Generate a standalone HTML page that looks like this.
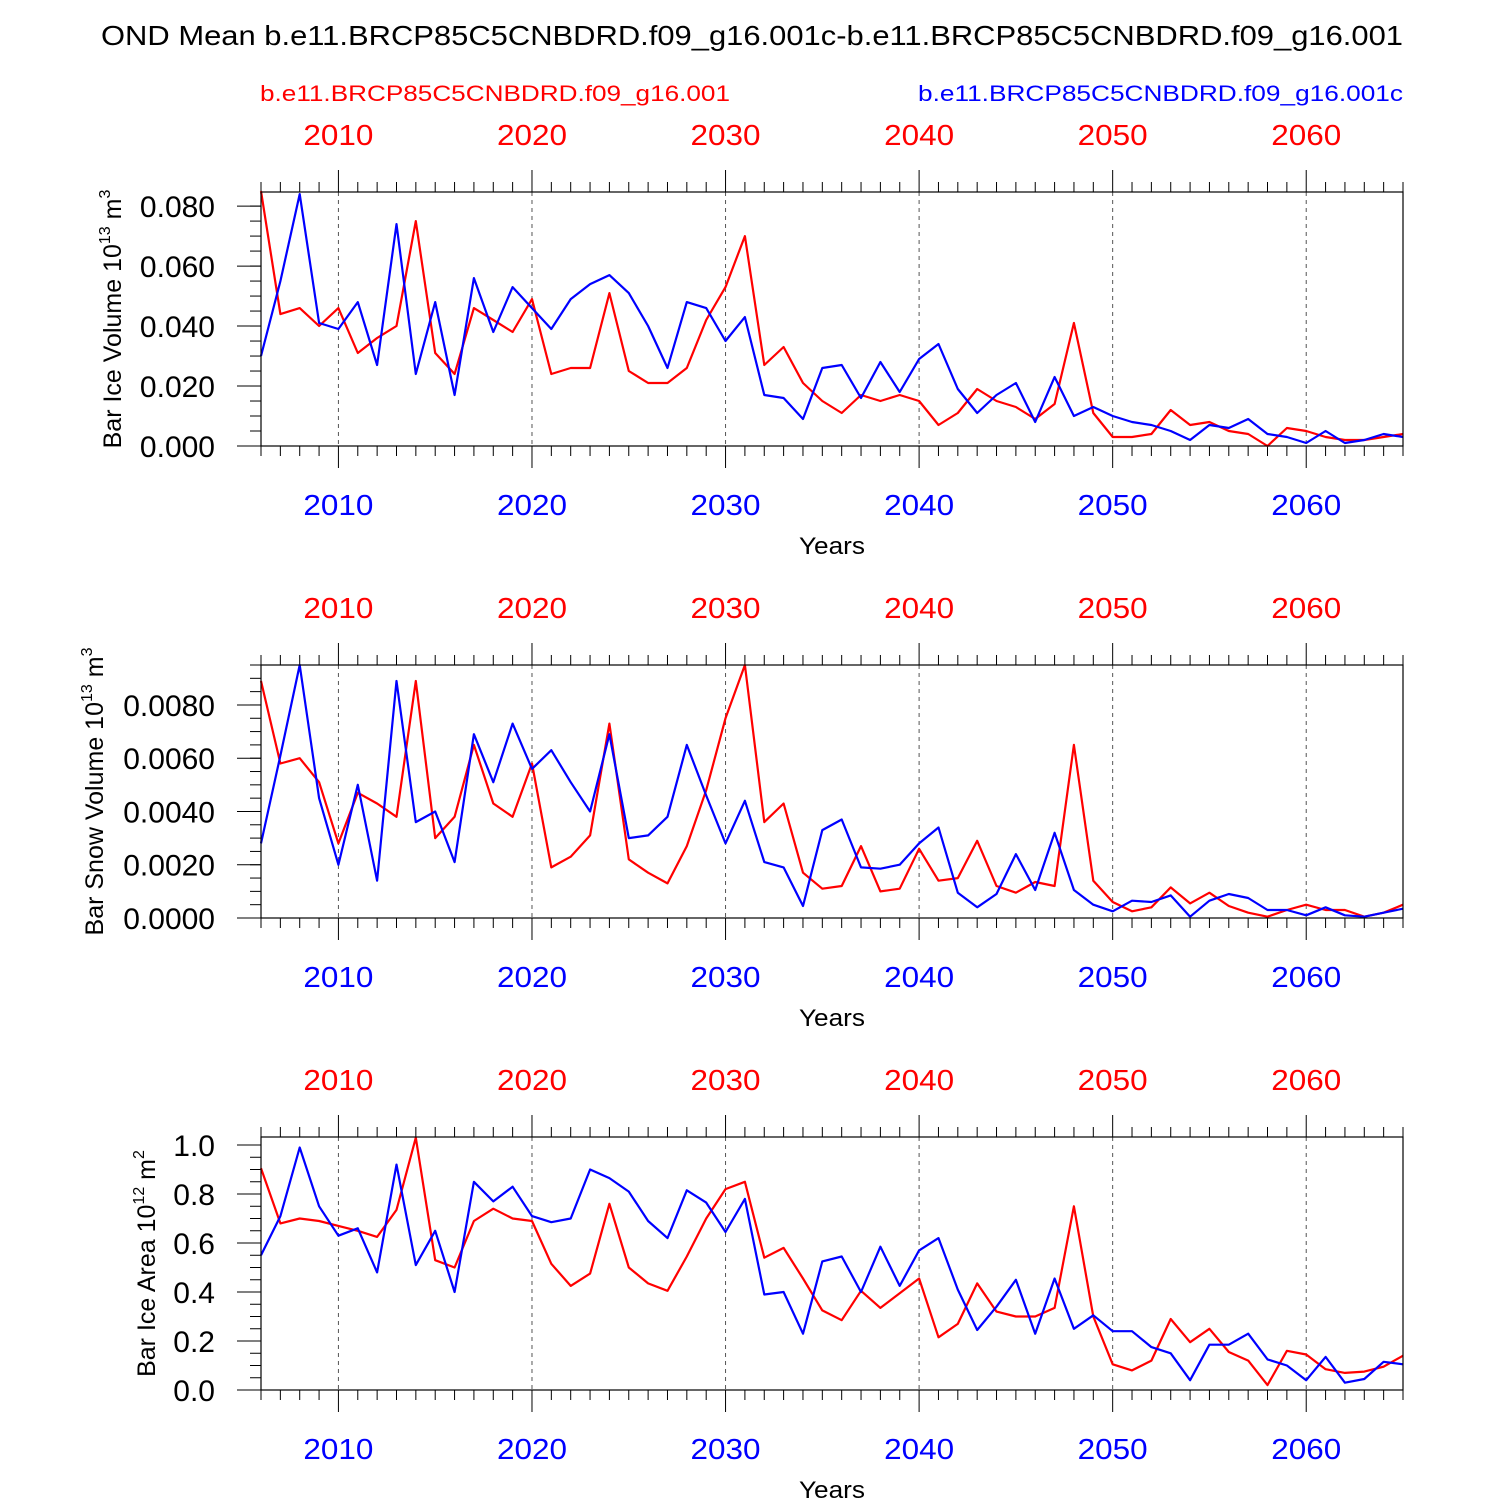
<!DOCTYPE html>
<html><head><meta charset="utf-8"><style>
body{margin:0;background:#fff}
svg{display:block;font-family:"Liberation Sans",Arial,sans-serif}
</style></head><body>
<svg id="chart" width="1500" height="1500" viewBox="0 0 1500 1500" xmlns="http://www.w3.org/2000/svg">
<rect width="1500" height="1500" fill="#fff"/>
<text x="101" y="45" font-size="28" textLength="1302" lengthAdjust="spacingAndGlyphs">OND Mean b.e11.BRCP85C5CNBDRD.f09_g16.001c-b.e11.BRCP85C5CNBDRD.f09_g16.001</text>
<text x="260" y="101" font-size="22" fill="#ff0000" textLength="470" lengthAdjust="spacingAndGlyphs">b.e11.BRCP85C5CNBDRD.f09_g16.001</text>
<text x="918" y="101" font-size="22" fill="#0000ff" textLength="485" lengthAdjust="spacingAndGlyphs">b.e11.BRCP85C5CNBDRD.f09_g16.001c</text>
</svg>
<script>
const years = [];
for (let y = 2006; y <= 2065; y++) years.push(y);
const xTickYears = [2010, 2020, 2030, 2040, 2050, 2060];

const iceVolBlue = [0.030,0.055,0.084,0.041,0.039,0.048,0.027,0.074,0.024,0.048,0.017,0.056,0.038,0.053,0.046,0.039,0.049,0.054,0.057,0.051,0.040,0.026,0.048,0.046,0.035,0.043,0.017,0.016,0.009,0.026,0.027,0.016,0.028,0.018,0.029,0.034,0.019,0.011,0.017,0.021,0.008,0.023,0.010,0.013,0.010,0.008,0.007,0.005,0.002,0.007,0.006,0.009,0.004,0.003,0.001,0.005,0.001,0.002,0.004,0.003];
const iceVolRed = [0.085,0.044,0.046,0.040,0.046,0.031,0.036,0.040,0.075,0.031,0.024,0.046,0.042,0.038,0.049,0.024,0.026,0.026,0.051,0.025,0.021,0.021,0.026,0.042,0.053,0.070,0.027,0.033,0.021,0.015,0.011,0.017,0.015,0.017,0.015,0.007,0.011,0.019,0.015,0.013,0.009,0.014,0.041,0.011,0.003,0.003,0.004,0.012,0.007,0.008,0.005,0.004,0.000,0.006,0.005,0.003,0.002,0.002,0.003,0.004];
const snowVolBlue = [2.8,6.1,9.5,4.5,2.0,5.0,1.4,8.9,3.6,4.0,2.1,6.9,5.1,7.3,5.6,6.3,5.1,4.0,6.9,3.0,3.1,3.8,6.5,4.6,2.8,4.4,2.1,1.9,0.45,3.3,3.7,1.9,1.85,2.0,2.8,3.4,0.95,0.4,0.9,2.4,1.05,3.2,1.05,0.5,0.25,0.65,0.6,0.85,0.05,0.65,0.9,0.75,0.3,0.3,0.1,0.4,0.1,0.05,0.2,0.35].map(v=>v/1000);
const snowVolRed = [8.9,5.8,6.0,5.1,2.8,4.7,4.3,3.8,8.9,3.0,3.8,6.5,4.3,3.8,5.8,1.9,2.3,3.1,7.3,2.2,1.7,1.3,2.7,4.8,7.5,9.5,3.6,4.3,1.7,1.1,1.2,2.7,1.0,1.1,2.6,1.4,1.5,2.9,1.2,0.95,1.35,1.2,6.5,1.4,0.6,0.25,0.4,1.15,0.55,0.95,0.45,0.2,0.05,0.3,0.5,0.3,0.3,0.05,0.2,0.5].map(v=>v/1000);
const iceAreaBlue = [0.55,0.71,0.99,0.75,0.63,0.66,0.48,0.92,0.51,0.65,0.40,0.85,0.77,0.83,0.71,0.685,0.70,0.90,0.865,0.81,0.69,0.62,0.815,0.765,0.645,0.78,0.39,0.40,0.23,0.525,0.545,0.40,0.585,0.425,0.57,0.62,0.41,0.245,0.34,0.45,0.23,0.455,0.25,0.305,0.24,0.24,0.175,0.15,0.04,0.185,0.185,0.23,0.125,0.10,0.04,0.135,0.03,0.045,0.115,0.105];
const iceAreaRed = [0.905,0.68,0.70,0.69,0.67,0.65,0.625,0.735,1.03,0.53,0.50,0.69,0.74,0.70,0.69,0.515,0.425,0.475,0.76,0.50,0.435,0.405,0.545,0.70,0.82,0.85,0.54,0.58,0.455,0.325,0.285,0.405,0.335,0.395,0.455,0.215,0.27,0.435,0.32,0.30,0.30,0.335,0.75,0.30,0.105,0.08,0.12,0.29,0.195,0.25,0.155,0.12,0.02,0.16,0.145,0.085,0.07,0.075,0.095,0.14];

const yTicks1 = [0,0.02,0.04,0.06,0.08];
const yTickLabels1 = ["0.000","0.020","0.040","0.060","0.080"];
const yTicks2 = [0,0.002,0.004,0.006,0.008];
const yTickLabels2 = ["0.0000","0.0020","0.0040","0.0060","0.0080"];
const yTicks3 = [0,0.2,0.4,0.6,0.8,1.0];
const yTickLabels3 = ["0.0","0.2","0.4","0.6","0.8","1.0"];

const svg = document.getElementById('chart');
const NS = 'http://www.w3.org/2000/svg';
function mk(tag, attrs, parent) {
  const e = document.createElementNS(NS, tag);
  for (const k in attrs) e.setAttribute(k, attrs[k]);
  (parent || svg).appendChild(e);
  return e;
}
const X0 = 261, X1 = 1403, XMIN = 2006, XMAX = 2065;
const xs = yr => X0 + (yr - XMIN) / (XMAX - XMIN) * (X1 - X0);

const panels = [
  {name:'ice-volume', top:192, bot:446, ymax:0.0847, ticks:yTicks1, labels:yTickLabels1, minor:0.005, blue:iceVolBlue, red:iceVolRed, title:['Bar Ice Volume 10','13',' m','3'], tx:121},
  {name:'snow-volume', top:665, bot:918, ymax:0.0095, ticks:yTicks2, labels:yTickLabels2, minor:0.0005, blue:snowVolBlue, red:snowVolRed, title:['Bar Snow Volume 10','13',' m','3'], tx:103},
  {name:'ice-area', top:1137, bot:1390, ymax:1.0327, ticks:yTicks3, labels:yTickLabels3, minor:0.05, blue:iceAreaBlue, red:iceAreaRed, title:['Bar Ice Area 10','12',' m','2'], tx:155}
];

panels.forEach(p => {
  const g = mk('g', {});
  
  
  const ys = v => p.bot - v / p.ymax * (p.bot - p.top);
  xTickYears.forEach(yr => {
    const l = mk('line', {x1:xs(yr), x2:xs(yr), y1:p.top, y2:p.bot, stroke:'#555', 'stroke-width':1, 'stroke-dasharray':'4,4'}, g);
    
    
  });
  years.forEach(yr => {
    const major = yr % 10 === 0;
    const len = major ? 22 : 10;
    mk('line', {x1:xs(yr), x2:xs(yr), y1:p.top, y2:p.top - len, stroke:'#000', 'stroke-width':1}, g);
    mk('line', {x1:xs(yr), x2:xs(yr), y1:p.bot, y2:p.bot + len, stroke:'#000', 'stroke-width':1}, g);
  });
  xTickYears.forEach(yr => {
    const t1 = mk('text', {x:xs(yr), y:p.top - 47, 'font-size':29, fill:'#ff0000', 'text-anchor':'middle', textLength:70, lengthAdjust:'spacingAndGlyphs'}, g);
    
    
    t1.textContent = yr;
    const t2 = mk('text', {x:xs(yr), y:p.bot + 69, 'font-size':29, fill:'#0000ff', 'text-anchor':'middle', textLength:70, lengthAdjust:'spacingAndGlyphs'}, g);
    
    
    t2.textContent = yr;
  });
  const xt = mk('text', {x:832, y:p.bot + 108, 'font-size':24, 'text-anchor':'middle', textLength:66, lengthAdjust:'spacingAndGlyphs'}, g);
  
  
  xt.textContent = 'Years';
  for (let k = 0; k * p.minor <= p.ymax + 1e-9; k++) {
    const v = k * p.minor;
    mk('line', {x1:X0, x2:X0 - 11, y1:ys(v), y2:ys(v), stroke:'#000', 'stroke-width':1}, g);
  }
  p.ticks.forEach((v, i) => {
    mk('line', {x1:X0, x2:X0 - 24, y1:ys(v), y2:ys(v), stroke:'#000', 'stroke-width':1}, g);
    const t = mk('text', {x:215, y:ys(v) + 11, 'font-size':30, 'text-anchor':'end'}, g);
    
    
    t.textContent = p.labels[i];
  });
  const cy = (p.top + p.bot) / 2;
  const yt = mk('text', {x:0, y:0, 'font-size':25, 'text-anchor':'middle', transform:`translate(${p.tx},${cy}) rotate(-90)`}, g);
  
  
  const parts = p.title;
  const s1 = mk('tspan', {}, yt); s1.textContent = parts[0];
  const s2 = mk('tspan', {dy:-11, 'font-size':16}, yt); s2.textContent = parts[1];
  const s3 = mk('tspan', {dy:11}, yt); s3.textContent = parts[2];
  const s4 = mk('tspan', {dy:-11, 'font-size':16}, yt); s4.textContent = parts[3];
  [['red', p.red, '#ff0000'], ['blue', p.blue, '#0000ff']].forEach(([nm, arr, col]) => {
    const d = arr.map((v, i) => (i ? 'L' : 'M') + xs(years[i]).toFixed(1) + ',' + ys(v).toFixed(1)).join('');
    const path = mk('path', {d, fill:'none', stroke:col, 'stroke-width':2.2, 'stroke-linejoin':'round'}, g);
    
    
  });
  const fr = mk('rect', {x:X0, y:p.top, width:X1 - X0, height:p.bot - p.top, fill:'none', stroke:'#000', 'stroke-width':1.2}, g);
  
  
});
</script>
</body></html>
